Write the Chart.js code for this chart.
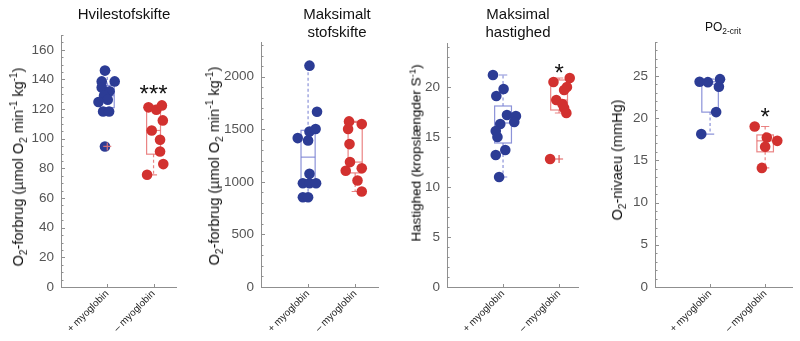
<!DOCTYPE html>
<html lang="da">
<head>
<meta charset="UTF-8">
<title>Myoglobin og stofskifte</title>
<script src="https://cdn.jsdelivr.net/npm/chart.js"></script>
<style>
  body { margin: 0; background: #fff; font-family: 'Liberation Sans', Arial, sans-serif; }
  #wrap { position: relative; width: 800px; height: 341px; overflow: hidden; }
  #wrap canvas { position: absolute; top: 0; z-index: 0; }
  .title { position: absolute; z-index: 2; transform: translateX(-50%); text-align: center; font-size: 15px; line-height: 18px; color: #111; white-space: nowrap; }
  .ylab { position: absolute; z-index: 2; transform: translate(-50%, -50%) rotate(-90deg); white-space: nowrap; font-size: 14.5px; color: #111; }
  sub, sup { font-size: 70%; line-height: 0; }
</style>
</head>
<body>
<div id="wrap">
  <div class="title" style="left:124px; top:5px;">Hvilestofskifte</div>
  <div class="title" style="left:337px; top:5px;">Maksimalt<br>stofskifte</div>
  <div class="title" style="left:518px; top:5px;">Maksimal<br>hastighed</div>
  <div class="title" style="left:723px; top:18px; font-size:12px;">PO<sub>2-crit</sub></div>

  <div class="ylab" style="left:18px; top:167px;">O<sub>2</sub>-forbrug (µmol O<sub>2</sub> min<sup>-1</sup> kg<sup>-1</sup>)</div>
  <div class="ylab" style="left:214px; top:166px;">O<sub>2</sub>-forbrug (µmol O<sub>2</sub> min<sup>-1</sup> kg<sup>-1</sup>)</div>
  <div class="ylab" style="left:416px; top:153px; font-size:13.5px; color:#000;">Hastighed (kropslængder S<sup>-1</sup>)</div>
  <div class="ylab" style="left:617px; top:160px;">O<sub>2</sub>-nivaeu (mmHg)</div>
</div>

<script>
  const groups = ['+ myoglobin', '\u2013 myoglobin'];

  // Hvilestofskifte
  const restPlus   = [146, 138.7, 138.7, 134.6, 132, 129, 126.4, 124.8, 118.4, 118.4, 94.8];
  const restPlusX  = [0.95, 0.88, 1.16, 0.88, 1.05, 0.93, 1.01, 0.81, 0.91, 1.04, 0.95];
  const restMinus  = [121.2, 119.6, 122.5, 112.4, 105.6, 99.3, 91.4, 82.9, 75.7];
  const restMinusX = [1.89, 2.06, 2.18, 2.20, 1.96, 2.14, 2.14, 2.21, 1.86];
  const restTicks  = [0, 20, 40, 60, 80, 100, 120, 140, 160];
  // box stats: lower whisker, q1, median, q3, upper whisker
  const restBoxPlus  = [118.4, 121, 129, 136, 146];
  const restBoxMinus = [75.7, 89.6, 105.6, 120.7, 122.5];
  const restOutPlus  = [94.8];
  const restStar = 134.5;

  // Maksimalt stofskifte
  const maxPlus   = [2105, 1667, 1479, 1502, 1416, 1394, 1076, 987, 987, 987, 854, 854];
  const maxPlusX  = [1.03, 1.19, 1.03, 1.16, 0.78, 1.00, 1.03, 0.89, 1.03, 1.17, 0.89, 1.00];
  const maxMinus  = [1575, 1549, 1502, 1359, 1188, 1130, 1105, 1013, 908];
  const maxMinusX = [1.87, 2.14, 1.85, 1.88, 1.89, 2.14, 1.80, 2.05, 2.14];
  const maxTicks  = [0, 500, 1000, 1500, 2000];
  const maxBoxPlus  = [854, 987, 1235, 1490, 2105];
  const maxBoxMinus = [908, 1085, 1188, 1565, 1575];

  // Maksimal hastighed
  const speedPlus   = [21.2, 19.8, 19.1, 17.2, 17.1, 16.5, 16.3, 15.6, 15.0, 13.7, 13.2, 11.0];
  const speedPlusX  = [0.82, 1.01, 0.88, 1.07, 1.23, 1.20, 0.95, 0.87, 0.90, 1.04, 0.87, 0.93];
  const speedMinus  = [20.5, 20.9, 20.0, 19.7, 18.7, 18.3, 17.9, 17.4, 12.8];
  const speedMinusX = [1.90, 2.19, 2.14, 2.09, 1.95, 2.06, 2.09, 2.13, 1.84];
  const speedTicks  = [0, 5, 10, 15, 20];
  const speedBoxPlus  = [11.0, 14.4, 16.4, 18.1, 21.2];
  const speedBoxMinus = [17.4, 17.7, 18.7, 20.7, 20.9];
  const speedOutMinus = [12.8];
  const speedStar = 22.0;

  // PO2-crit
  const pcritPlus   = [24.3, 24.25, 24.6, 23.7, 20.7, 18.1];
  const pcritPlusX  = [0.81, 0.96, 1.18, 1.16, 1.11, 0.84];
  const pcritMinus  = [19.0, 17.7, 17.3, 16.6, 14.1];
  const pcritMinusX = [1.81, 2.03, 2.22, 2.00, 1.94];
  const pcritTicks  = [0, 5, 10, 15, 20, 25];
  const pcritBoxPlus  = [18.1, 20.7, 24.0, 24.3, 24.6];
  const pcritBoxMinus = [14.1, 16.0, 17.3, 18.0, 19.0];
  const pcritStar = 20.8;

  const FONT = "'Liberation Sans', Arial, sans-serif";
  const BLUE = '#2c3c95', RED = '#d2312f';
  const BOX_BLUE = 'rgba(120,128,210,0.85)', BOX_RED = 'rgba(230,110,110,0.85)';
  const AXIS = '#8f8f8f';
  const BOX_HALF = 0.15, CAP_HALF = 0.075;

  const panels = [
    { left: 11, width: 171, top: 35, yMax: 170, xMax: 2.5, ticks: restTicks, minor: 5,
      plus: [restPlusX, restPlus], minus: [restMinusX, restMinus],
      boxes: [
        { stats: restBoxPlus, color: BOX_BLUE, out: restOutPlus, outColor: 'rgba(230,120,120,0.9)' },
        { stats: restBoxMinus, color: BOX_RED, out: [], outColor: RED }
      ],
      stars: [{ x: 2, y: restStar, text: '***' }] },
    { left: 211, width: 173, top: 42, yMax: 2330, xMax: 2.5, ticks: maxTicks, minor: 100,
      plus: [maxPlusX, maxPlus], minus: [maxMinusX, maxMinus],
      boxes: [
        { stats: maxBoxPlus, color: BOX_BLUE, out: [], outColor: RED },
        { stats: maxBoxMinus, color: BOX_RED, out: [], outColor: RED }
      ],
      stars: [] },
    { left: 397, width: 187, top: 43, yMax: 24.4, xMax: 2.35, ticks: speedTicks, minor: 1,
      plus: [speedPlusX, speedPlus], minus: [speedMinusX, speedMinus],
      boxes: [
        { stats: speedBoxPlus, color: BOX_BLUE, out: [], outColor: RED },
        { stats: speedBoxMinus, color: BOX_RED, out: speedOutMinus, outColor: 'rgba(220,70,70,0.9)' }
      ],
      stars: [{ x: 2, y: speedStar, text: '*' }] },
    { left: 605, width: 193, top: 42, yMax: 29, xMax: 2.5, ticks: pcritTicks, minor: 1,
      plus: [pcritPlusX, pcritPlus], minus: [pcritMinusX, pcritMinus],
      boxes: [
        { stats: pcritBoxPlus, color: BOX_BLUE, out: [], outColor: RED },
        { stats: pcritBoxMinus, color: BOX_RED, out: [], outColor: RED }
      ],
      stars: [{ x: 2, y: pcritStar, text: '*' }] }
  ];

  // boxes behind the dots, inward tick marks and significance stars on top
  function decor(p) {
    return {
      id: 'decor',
      beforeDatasetsDraw(chart) {
        const { ctx, scales: { x, y } } = chart;
        p.boxes.forEach((b, i) => {
          const [lo, q1, med, q3, hi] = b.stats;
          const c = i + 1;
          const xl = x.getPixelForValue(c - BOX_HALF), xr = x.getPixelForValue(c + BOX_HALF);
          const xc = x.getPixelForValue(c);
          const cl = x.getPixelForValue(c - CAP_HALF), cr = x.getPixelForValue(c + CAP_HALF);
          const yq1 = y.getPixelForValue(q1), yq3 = y.getPixelForValue(q3);
          ctx.save();
          ctx.strokeStyle = b.color;
          ctx.lineWidth = 1.2;
          ctx.strokeRect(xl, yq3, xr - xl, yq1 - yq3);
          ctx.beginPath();
          ctx.moveTo(xl, y.getPixelForValue(med));
          ctx.lineTo(xr, y.getPixelForValue(med));
          ctx.stroke();
          ctx.setLineDash([3, 2.5]);
          ctx.beginPath();
          ctx.moveTo(xc, yq3); ctx.lineTo(xc, y.getPixelForValue(hi));
          ctx.moveTo(xc, yq1); ctx.lineTo(xc, y.getPixelForValue(lo));
          ctx.stroke();
          ctx.setLineDash([]);
          ctx.beginPath();
          ctx.moveTo(cl, y.getPixelForValue(hi)); ctx.lineTo(cr, y.getPixelForValue(hi));
          ctx.moveTo(cl, y.getPixelForValue(lo)); ctx.lineTo(cr, y.getPixelForValue(lo));
          ctx.stroke();
          ctx.restore();
        });
      },
      afterDatasetsDraw(chart) {
        const { ctx, scales: { x, y } } = chart;
        p.boxes.forEach((b, i) => {
          const xc = x.getPixelForValue(i + 1);
          ctx.save();
          ctx.strokeStyle = b.outColor;
          ctx.lineWidth = 1.2;
          b.out.forEach(v => {
            const py = y.getPixelForValue(v);
            ctx.beginPath();
            ctx.moveTo(xc - 4, py); ctx.lineTo(xc + 4, py);
            ctx.moveTo(xc, py - 4); ctx.lineTo(xc, py + 4);
            ctx.stroke();
          });
          ctx.restore();
        });
      },
      afterDraw(chart) {
        const { ctx, chartArea: a, scales: { x, y } } = chart;
        ctx.save();
        ctx.strokeStyle = AXIS;
        ctx.lineWidth = 1;
        ctx.beginPath();
        for (let v = 0; v <= p.yMax + 1e-9; v += p.minor) {
          const py = Math.round(y.getPixelForValue(v)) + 0.5;
          const major = p.ticks.some(t => Math.abs(t - v) < 1e-6);
          ctx.moveTo(a.left, py);
          ctx.lineTo(a.left + (major ? 4 : 2.5), py);
        }
        [1, 2].forEach(c => {
          const px = Math.round(x.getPixelForValue(c)) + 0.5;
          ctx.moveTo(px, a.bottom);
          ctx.lineTo(px, a.bottom - 3);
        });
        ctx.stroke();

        ctx.fillStyle = '#111';
        ctx.font = '24px ' + FONT;
        ctx.textAlign = 'center';
        ctx.textBaseline = 'alphabetic';
        p.stars.forEach(s => {
          ctx.fillText(s.text, x.getPixelForValue(s.x), y.getPixelForValue(s.y) + 24 * 0.58);
        });
        ctx.restore();
      }
    };
  }

  const wrap = document.getElementById('wrap');

  panels.forEach(p => {
    const canvas = document.createElement('canvas');
    canvas.width = p.width;
    canvas.height = 341;
    canvas.style.left = p.left + 'px';
    canvas.style.width = p.width + 'px';
    canvas.style.height = '341px';
    wrap.insertBefore(canvas, wrap.firstChild);

    new Chart(canvas, {
      type: 'scatter',
      data: {
        datasets: [
          { data: p.plus[0].map((v, i) => ({ x: v, y: p.plus[1][i] })),
            backgroundColor: BLUE, pointRadius: 5.3, borderWidth: 0 },
          { data: p.minus[0].map((v, i) => ({ x: v, y: p.minus[1][i] })),
            backgroundColor: RED, pointRadius: 5.3, borderWidth: 0 }
        ]
      },
      options: {
        responsive: false,
        animation: false,
        events: [],
        layout: { padding: { top: p.top, right: 2, left: 0, bottom: 0 } },
        plugins: { legend: { display: false }, tooltip: { enabled: false } },
        scales: {
          x: {
            type: 'linear', min: 0, max: p.xMax,
            afterBuildTicks: s => { s.ticks = [{ value: 1 }, { value: 2 }]; },
            afterFit: s => { s.height = 54; },
            ticks: {
              callback: v => groups[Math.round(v) - 1],
              autoSkip: false, minRotation: 45, maxRotation: 45, padding: 1,
              color: '#222', font: { size: 10, family: FONT }
            },
            grid: { display: false, drawTicks: false },
            border: { color: AXIS, width: 1 }
          },
          y: {
            min: 0, max: p.yMax,
            afterBuildTicks: s => { s.ticks = p.ticks.map(v => ({ value: v })); },
            afterFit: s => { s.width = 50; },
            ticks: { callback: v => String(v), color: '#555', padding: 7, font: { size: 13.5, family: FONT } },
            grid: { display: false, drawTicks: false },
            border: { color: AXIS, width: 1 }
          }
        }
      },
      plugins: [decor(p)]
    });
  });
</script>
</body>
</html>
